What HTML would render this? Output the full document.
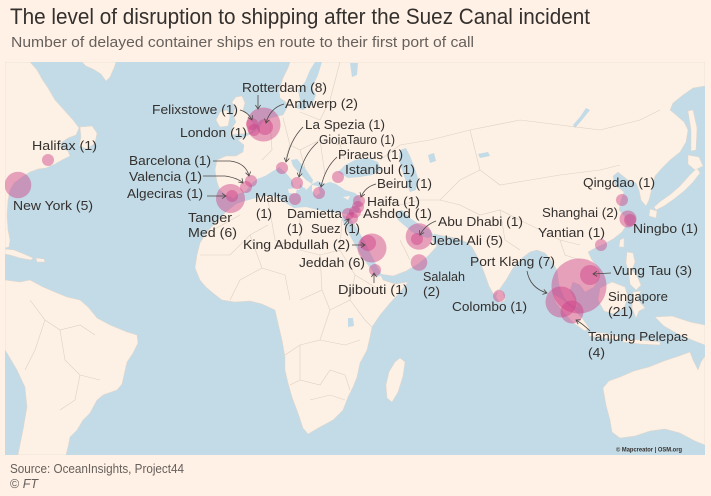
<!DOCTYPE html>
<html><head><meta charset="utf-8">
<style>
html,body{margin:0;padding:0;background:#fff1e5;}
svg{display:block;}
text{font-family:"Liberation Sans",Arial,sans-serif;}
</style></head>
<body>
<svg width="711" height="496" viewBox="0 0 711 496" xmlns="http://www.w3.org/2000/svg">
<defs>
<clipPath id="mc"><rect x="5" y="62" width="700" height="393"/></clipPath>
<marker id="ah" markerWidth="7" markerHeight="7" refX="5" refY="3" orient="auto" markerUnits="userSpaceOnUse">
<path d="M1,0.4 L5,3 L1,5.6" fill="none" stroke="#4d4845" stroke-width="0.8"/></marker>
</defs>
<rect width="711" height="496" fill="#fff1e5"/>
<text x="10" y="24" font-size="22" fill="#33302e" textLength="580" lengthAdjust="spacingAndGlyphs">The level of disruption to shipping after the Suez Canal incident</text>
<text x="11" y="47" font-size="15" fill="#66605c" textLength="463" lengthAdjust="spacingAndGlyphs">Number of delayed container ships en route to their first port of call</text>

<g clip-path="url(#mc)">
<rect x="5" y="62" width="700" height="393" fill="#c3dbe6"/>
<g fill="#fdf0e5" stroke="#e3d6ca" stroke-width="0.5">
<path d="M5,62 L30,62 L37,70 L42,79 L48,88 L55,100 L64,110 L73,120 L79,128 L76,135 L68,138 L62,142 L60,147 L68,151 L70,156 L62,160 L55,164 L46,168 L38,169 L30,172 L22,177 L14,183 L10,190 L8,200 L7,215 L8,230 L10,240 L9,247 L5,248 Z"/>
<path d="M80,127 L92,126 L97,133 L95,143 L87,149 L79,146 L81,137 Z"/>
<path d="M82,62 L116,62 L114,68 L110,77 L106,81 L101,74 L93,69 L86,66 Z"/>
<path d="M5,249 L14,250 L24,254 L33,258 L31,260 L20,258 L10,255 L5,254 Z"/>
<path d="M36,258 L44,259 L45,262 L37,262 Z"/>
<path d="M5,280 L20,282 L30,280 L43,287 L57,293 L67,297 L80,300 L88,307 L97,318 L110,325 L127,332 L137,335 L138,343 L133,353 L127,362 L124,375 L122,384 L117,390 L103,395 L97,400 L90,413 L83,420 L77,430 L70,437 L68,447 L66,455 L18,455 L23,430 L27,407 L25,387 L17,370 L7,353 L5,350 Z"/>
<path d="M290,62 L705,62 L705,86 L693,88 L683,95 L673,103 L670,110 L676,115 L684,122 L688,130 L686,142 L680,152 L670,160 L662,168 L655,176 L652,188 L649,200 L646,206 L641,200 L639,190 L636,183 L628,180 L618,172 L613,176 L615,185 L624,192 L621,200 L619,210 L625,217 L627,224 L622,232 L613,239 L604,244 L595,248 L588,252 L592,260 L598,268 L599,278 L594,287 L585,292 L580,285 L573,282 L570,290 L575,300 L578,307 L571,305 L564,298 L559,285 L557,270 L551,260 L545,253 L537,250 L530,252 L522,258 L513,268 L506,280 L499,290 L494,295 L489,286 L484,272 L478,258 L472,247 L466,242 L456,238 L444,236 L434,234 L432,240 L437,246 L428,256 L418,264 L406,271 L393,276 L380,274 L383,280 L395,284 L408,282 L400,292 L390,303 L380,315 L372,327 L370,337 L367,350 L360,363 L357,377 L353,387 L348,397 L343,410 L333,420 L320,427 L308,434 L303,428 L298,413 L292,397 L288,383 L285,370 L285,357 L282,340 L278,323 L275,310 L262,304 L250,301 L235,302 L222,300 L213,293 L206,287 L200,280 L195,268 L197,255 L200,243 L207,232 L216,222 L226,212 L236,204 L233,198 L226,195 L220,190 L217,182 L215,170 L217,160 L226,156 L236,156 L243,152 L244,145 L238,140 L246,136 L253,133 L259,128 L264,120 L274,117 L283,115 L287,108 L286,102 L280,98 L279,90 L283,78 L288,68 Z"/>
<path d="M236,97 L242,96 L245,103 L243,110 L248,115 L252,122 L254,128 L250,133 L240,134 L230,135 L232,128 L236,122 L233,115 L235,108 L232,102 Z"/>
<path d="M220,112 L227,110 L230,116 L228,126 L220,127 L216,120 Z"/>
<path d="M400,358 L405,362 L403,376 L398,392 L392,402 L387,398 L386,385 L389,372 L395,362 Z"/>
<path d="M498,289 L503,292 L505,300 L500,303 L496,297 Z"/>
<path d="M697,168 L700,173 L693,182 L684,191 L674,199 L664,206 L656,210 L654,207 L661,201 L671,194 L680,186 L689,176 Z"/>
<path d="M688,155 L699,157 L703,166 L695,170 L688,164 Z"/>
<path d="M688,111 L693,110 L697,128 L696,150 L691,151 L691,130 Z"/>
<path d="M650,209 L657,211 L656,218 L649,216 Z"/>
<path d="M620,240 L624,238 L624,247 L619,247 Z"/>
<path d="M627,252 L633,253 L635,262 L632,270 L637,276 L641,285 L636,290 L630,284 L629,275 L626,263 Z"/>
<path d="M600,288 L612,282 L625,287 L628,297 L624,308 L614,314 L604,311 L598,300 Z"/>
<path d="M633,292 L641,291 L637,299 L645,308 L639,311 L636,318 L632,308 Z"/>
<path d="M553,294 L562,299 L572,308 L582,318 L589,328 L585,331 L575,324 L564,313 L556,303 Z"/>
<path d="M589,332 L604,333 L620,337 L619,340 L603,338 L589,336 Z"/>
<path d="M623,339 L640,340 L660,342 L660,345 L640,344 L623,342 Z"/>
<path d="M655,317 L672,316 L690,322 L705,325 L705,345 L692,340 L678,334 L664,326 Z"/>
<path d="M603,388 L609,381 L620,377 L634,371 L649,367 L664,361 L679,356 L690,352 L693,360 L698,370 L701,362 L705,356 L705,445 L695,441 L680,433 L665,429 L650,431 L635,436 L620,438 L612,432 L610,420 L606,405 Z"/>
</g>
<g fill="#c3dbe6">
<path d="M232,200 L238,194 L246,191 L251,184 L257,179 L265,176 L273,171 L280,167 L286,165 L292,170 L298,178 L304,186 L306,190 L312,184 L318,181 L324,184 L330,182 L336,184 L345,190 L355,193 L360,197 L361,205 L358,212 L350,215 L340,213 L330,212 L318,210 L306,207 L294,208 L284,202 L274,196 L264,196 L252,199 L242,202 L236,204 Z"/>
<path d="M291,160 L297,159 L305,168 L313,180 L312,184 L306,180 L298,172 L293,166 Z"/>
<path d="M338,172 L345,165 L355,160 L368,158 L378,162 L381,170 L372,175 L360,177 L348,178 Z"/>
<path d="M400,150 L406,148 L410,156 L414,166 L418,178 L416,190 L410,192 L406,182 L402,170 L399,160 Z"/>
<path d="M343,215 L350,218 L358,230 L365,242 L372,256 L378,268 L382,275 L377,277 L370,268 L362,257 L355,245 L348,232 L342,220 Z"/>
<path d="M395,212 L402,210 L410,218 L420,225 L430,230 L434,236 L428,238 L420,236 L412,232 L405,226 L398,220 Z"/>
<path d="M298,90 L305,82 L310,70 L315,62 L322,62 L318,75 L312,88 L316,95 L312,105 L303,110 L296,108 L300,100 Z"/>
<path d="M350,63 L358,63 L357,75 L352,77 Z"/>
<path d="M586,108 L590,110 L582,120 L575,128 L573,125 L580,117 Z"/>
<path d="M478,154 L488,152 L490,156 L480,158 Z"/>
<path d="M428,155 L434,153 L436,161 L430,163 Z"/>
<path d="M348,318 L353,318 L354,326 L348,327 Z"/>
</g>
<g fill="#fdf0e5">
<path d="M283,160 L290,164 L296,172 L303,180 L308,186 L304,188 L300,184 L299,190 L294,188 L292,180 L286,173 L280,168 Z"/>
<path d="M288,189 L297,188 L296,194 L289,193 Z"/>
<path d="M312,185 L318,186 L320,193 L316,196 L312,191 Z"/>
<path d="M343,197 L350,196 L348,200 Z"/>
</g>
<!-- borders -->
<g fill="none" stroke="#ddd0c4" stroke-width="0.6">
<path d="M213,230 L240,215"/>
<path d="M200,255 L230,255 L250,235 L268,225"/>
<path d="M250,235 L262,268 L285,275"/>
<path d="M268,200 L275,240 L300,250 L300,215"/>
<path d="M300,250 L320,255 L340,250 L342,218"/>
<path d="M320,255 L322,290 L300,300"/>
<path d="M340,250 L355,275 L350,300 L330,310 L322,290"/>
<path d="M285,275 L290,300"/>
<path d="M262,268 L240,280 L230,300"/>
<path d="M355,275 L380,290"/>
<path d="M350,300 L365,320 L372,327"/>
<path d="M330,310 L320,340 L300,345 L285,355"/>
<path d="M320,340 L345,345 L360,340"/>
<path d="M300,345 L300,380 L290,385"/>
<path d="M300,380 L320,385 L330,370 L345,375 L350,390"/>
<path d="M310,400 L330,395 L345,400"/>
<path d="M270,120 L272,150 L262,160"/>
<path d="M283,118 L290,145 L300,150 L320,140 L340,145 L360,140"/>
<path d="M290,145 L285,160"/>
<path d="M300,150 L305,168"/>
<path d="M320,140 L325,175"/>
<path d="M340,145 L345,160"/>
<path d="M300,112 L320,120 L330,100 L340,62"/>
<path d="M380,160 L400,145 L430,140 L470,130 L520,120 L560,125 L600,130 L640,120 L660,110"/>
<path d="M470,130 L480,170 L500,185 L530,180 L560,175 L600,170 L620,165"/>
<path d="M440,200 L460,205 L480,215 L500,210 L520,220 L540,230 L560,240 L580,245"/>
<path d="M380,200 L400,205 L420,200 L440,200 L460,180 L480,170"/>
<path d="M360,215 L380,215 L395,212"/>
<path d="M500,210 L505,240 L520,250"/>
<path d="M560,240 L565,255 L580,260"/>
<path d="M400,240 L410,260"/>
<path d="M30,300 L45,320 L60,330 L80,325 L95,335"/>
<path d="M45,320 L35,350 L25,370"/>
<path d="M60,330 L65,360 L80,375 L100,380"/>
<path d="M80,375 L75,400 L60,410"/>
</g>
<!-- bubbles -->
<g fill="#cc3d85" fill-opacity="0.45">
<circle cx="48" cy="160" r="6"/>
<circle cx="18" cy="185" r="13.3"/>
<circle cx="263.5" cy="124.5" r="17"/>
<circle cx="265" cy="127" r="8"/>
<circle cx="254" cy="130" r="6"/>
<circle cx="252" cy="124" r="6"/>
<circle cx="251" cy="181" r="6"/>
<circle cx="246" cy="187" r="6"/>
<circle cx="230.5" cy="198.5" r="14.5"/>
<circle cx="232" cy="196" r="6"/>
<circle cx="282" cy="168" r="6"/>
<circle cx="297" cy="183" r="6"/>
<circle cx="295" cy="199" r="6"/>
<circle cx="319" cy="193" r="6"/>
<circle cx="338" cy="177" r="6"/>
<circle cx="359" cy="201" r="6"/>
<circle cx="358" cy="207" r="6"/>
<circle cx="355" cy="212" r="6"/>
<circle cx="348" cy="214" r="6"/>
<circle cx="352" cy="218" r="6"/>
<circle cx="368" cy="243" r="8"/>
<circle cx="372" cy="248" r="14.5"/>
<circle cx="375" cy="270" r="6"/>
<circle cx="419" cy="236.5" r="13.3"/>
<circle cx="417" cy="239" r="6"/>
<circle cx="419" cy="262.5" r="8.3"/>
<circle cx="499" cy="296" r="6"/>
<circle cx="561" cy="302" r="15.5"/>
<circle cx="579" cy="286" r="27.5"/>
<circle cx="572" cy="312" r="11.5"/>
<circle cx="590" cy="275" r="10"/>
<circle cx="601" cy="245" r="6"/>
<circle cx="628" cy="219" r="8.5"/>
<circle cx="630" cy="220" r="6"/>
<circle cx="622" cy="200" r="6"/>
</g>
<text x="616" y="451.5" font-size="6" font-weight="bold" fill="#33302e" textLength="66" lengthAdjust="spacingAndGlyphs">© Mapcreator | OSM.org</text>
</g>

<g fill="none" stroke="#4d4845" stroke-width="0.8" marker-end="url(#ah)">
<path d="M258,95 L258,109"/>
<path d="M284,104 Q270,108 266,123"/>
<path d="M240,110 Q248,112 252,120"/>
<path d="M303,127 Q290,140 286,162"/>
<path d="M318,142 Q303,155 299,177"/>
<path d="M337,157 Q325,168 321,187"/>
<path d="M376,184 Q365,187 361,197"/>
<path d="M213,161 L230,161 Q246,163 249,176"/>
<path d="M203,176 L225,176 Q238,178 243,183"/>
<path d="M207,196 L226,196"/>
<path d="M352,245 L365,245"/>
<path d="M344,225 L349,219"/>
<path d="M374,283 L374,273"/>
<path d="M436,221 Q425,225 420,235"/>
<path d="M527,271 Q530,288 547,293"/>
<path d="M611,273 L593,274"/>
<path d="M590,331 Q583,324 576,320"/>
</g>

<g font-size="12.5" fill="#33302e">
<text x="242" y="92" textLength="85" lengthAdjust="spacingAndGlyphs">Rotterdam (8)</text>
<text x="285" y="108" textLength="73" lengthAdjust="spacingAndGlyphs">Antwerp (2)</text>
<text x="152" y="114" textLength="86" lengthAdjust="spacingAndGlyphs">Felixstowe (1)</text>
<text x="180" y="137" textLength="67" lengthAdjust="spacingAndGlyphs">London (1)</text>
<text x="305" y="129" textLength="80" lengthAdjust="spacingAndGlyphs">La Spezia (1)</text>
<text x="319" y="144" textLength="76" lengthAdjust="spacingAndGlyphs">GioiaTauro (1)</text>
<text x="338" y="159" textLength="65" lengthAdjust="spacingAndGlyphs">Piraeus (1)</text>
<text x="345" y="174" textLength="70" lengthAdjust="spacingAndGlyphs">Istanbul (1)</text>
<text x="377" y="188" textLength="55" lengthAdjust="spacingAndGlyphs">Beirut (1)</text>
<text x="367" y="206" textLength="53" lengthAdjust="spacingAndGlyphs">Haifa (1)</text>
<text x="363" y="218" textLength="69" lengthAdjust="spacingAndGlyphs">Ashdod (1)</text>
<text x="255" y="202" textLength="33" lengthAdjust="spacingAndGlyphs">Malta</text>
<text x="256" y="218" textLength="16" lengthAdjust="spacingAndGlyphs">(1)</text>
<text x="287" y="218" textLength="55" lengthAdjust="spacingAndGlyphs">Damietta</text>
<text x="287" y="233" textLength="16" lengthAdjust="spacingAndGlyphs">(1)</text>
<text x="311" y="233" textLength="49" lengthAdjust="spacingAndGlyphs">Suez (1)</text>
<text x="243" y="249" textLength="107" lengthAdjust="spacingAndGlyphs">King Abdullah (2)</text>
<text x="299" y="267" textLength="66" lengthAdjust="spacingAndGlyphs">Jeddah (6)</text>
<text x="338" y="294" textLength="70" lengthAdjust="spacingAndGlyphs">Djibouti (1)</text>
<text x="438" y="226" textLength="85" lengthAdjust="spacingAndGlyphs">Abu Dhabi (1)</text>
<text x="430" y="245" textLength="73" lengthAdjust="spacingAndGlyphs">Jebel Ali (5)</text>
<text x="423" y="281" textLength="42" lengthAdjust="spacingAndGlyphs">Salalah</text>
<text x="423" y="296" textLength="17" lengthAdjust="spacingAndGlyphs">(2)</text>
<text x="452" y="311" textLength="75" lengthAdjust="spacingAndGlyphs">Colombo (1)</text>
<text x="470" y="266" textLength="85" lengthAdjust="spacingAndGlyphs">Port Klang (7)</text>
<text x="583" y="187" textLength="72" lengthAdjust="spacingAndGlyphs">Qingdao (1)</text>
<text x="542" y="217" textLength="76" lengthAdjust="spacingAndGlyphs">Shanghai (2)</text>
<text x="633" y="233" textLength="65" lengthAdjust="spacingAndGlyphs">Ningbo (1)</text>
<text x="538" y="237" textLength="67" lengthAdjust="spacingAndGlyphs">Yantian (1)</text>
<text x="613" y="275" textLength="79" lengthAdjust="spacingAndGlyphs">Vung Tau (3)</text>
<text x="608" y="301" textLength="60" lengthAdjust="spacingAndGlyphs">Singapore</text>
<text x="608" y="316" textLength="25" lengthAdjust="spacingAndGlyphs">(21)</text>
<text x="588" y="341" textLength="100" lengthAdjust="spacingAndGlyphs">Tanjung Pelepas</text>
<text x="588" y="357" textLength="17" lengthAdjust="spacingAndGlyphs">(4)</text>
<text x="32" y="150" textLength="65" lengthAdjust="spacingAndGlyphs">Halifax (1)</text>
<text x="13" y="210" textLength="80" lengthAdjust="spacingAndGlyphs">New York (5)</text>
<text x="129" y="165" textLength="82" lengthAdjust="spacingAndGlyphs">Barcelona (1)</text>
<text x="129" y="181" textLength="73" lengthAdjust="spacingAndGlyphs">Valencia (1)</text>
<text x="127" y="198" textLength="76" lengthAdjust="spacingAndGlyphs">Algeciras (1)</text>
<text x="188" y="222" textLength="44" lengthAdjust="spacingAndGlyphs">Tanger</text>
<text x="188" y="237" textLength="49" lengthAdjust="spacingAndGlyphs">Med (6)</text>
</g>

<text x="10" y="473" font-size="12.5" fill="#66605c" textLength="174" lengthAdjust="spacingAndGlyphs">Source: OceanInsights, Project44</text>
<text x="10" y="488" font-size="12.5" fill="#66605c">© <tspan font-style="italic">FT</tspan></text>
</svg>
</body></html>
